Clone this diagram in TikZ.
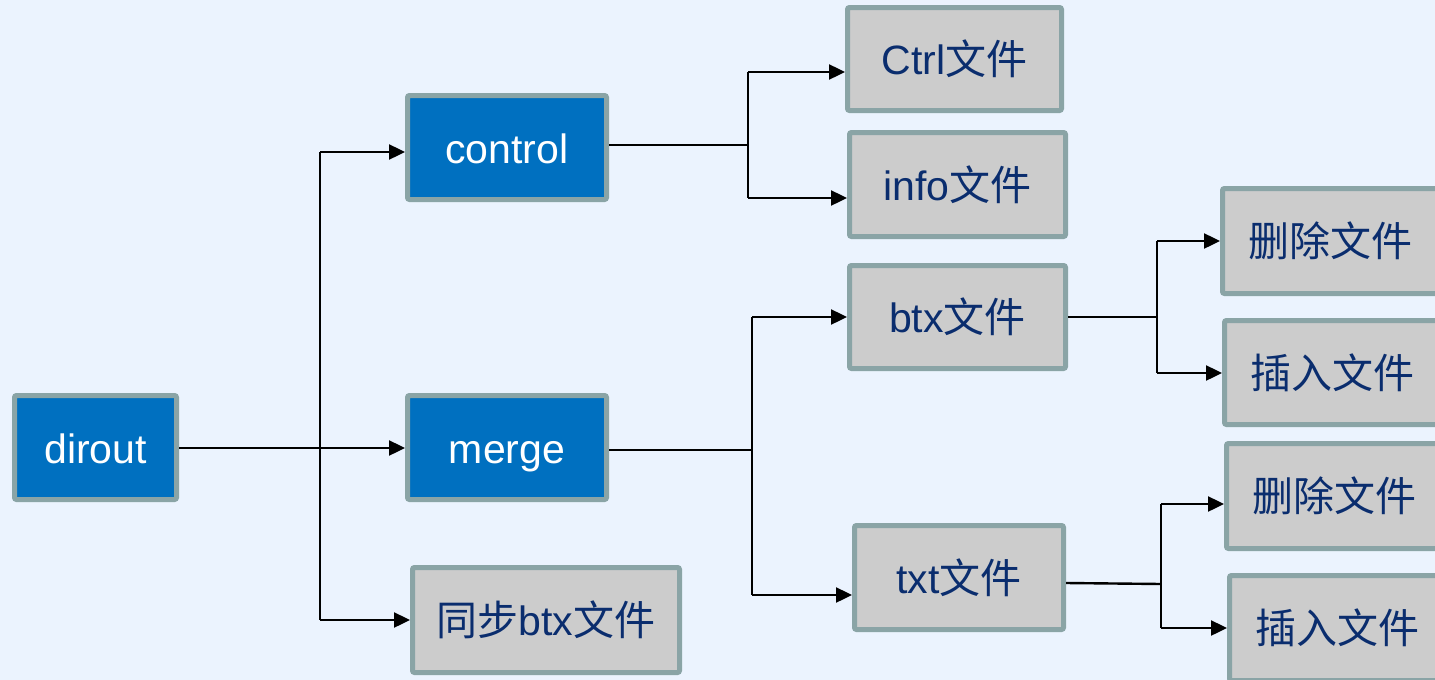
\documentclass[tikz,border=0pt]{standalone}
\usepackage{fontspec}
\setmainfont{Liberation Sans}
\newfontfamily\cjk{Noto Sans CJK SC}
\usetikzlibrary{arrows.meta}
\definecolor{bgc}{RGB}{235,243,254}
\definecolor{bluefill}{RGB}{0,112,192}
\definecolor{boxborder}{RGB}{138,164,166}
\definecolor{grayfill}{RGB}{204,204,204}
\definecolor{navytext}{RGB}{10,45,110}
\newcommand\zh[1]{{\cjk #1}}
\tikzset{
  basebox/.style={draw=boxborder, line width=5pt, rounded corners=2pt, inner sep=0pt,
    text height=31pt, text depth=0pt,
    font=\fontsize{41}{48}\selectfont},
  bluebox/.style={basebox, fill=bluefill, text=white},
  graybox/.style={basebox, fill=grayfill, text=navytext},
  conn/.style={line width=2.4pt, draw=black},
  arr/.style={conn, -{Triangle[length=16pt,width=15pt]}},
}
\begin{document}
\begin{tikzpicture}[x=1pt,y=-1pt]
\useasboundingbox (0,0) rectangle (1435,680);
\clip (0,0) rectangle (1435,680);
\fill[bgc] (0,0) rectangle (1435,680);

% blue boxes
\node[bluebox, minimum width=162pt, minimum height=104pt] (dirout) at (95.5,447.5) {dirout};
\node[bluebox, minimum width=199pt, minimum height=104pt] (control) at (507,147.5) {control};
\node[bluebox, minimum width=199pt, minimum height=104pt] (merge) at (507,447.5) {merge};
% gray boxes
\node[graybox, minimum width=267pt, minimum height=105pt] (sync) at (546,620) {\zh{同步}btx\zh{文件}};
\node[graybox, minimum width=214pt, minimum height=103pt] (ctrl) at (954.5,59) {Ctrl\zh{文件}};
\node[graybox, minimum width=216pt, minimum height=104pt] (info) at (957.5,184.5) {info\zh{文件}};
\node[graybox, minimum width=216pt, minimum height=103pt] (btx) at (957.5,317) {btx\zh{文件}};
\node[graybox, minimum width=209pt, minimum height=104pt] (txt) at (959,577.5) {txt\zh{文件}};
\node[graybox, minimum width=215pt, minimum height=105pt] (del1) at (1330,241) {\zh{删除文件}};
\node[graybox, minimum width=215pt, minimum height=104pt] (ins1) at (1332,372.5) {\zh{插入文件}};
\node[graybox, minimum width=215pt, minimum height=105pt] (del2) at (1334,496) {\zh{删除文件}};
\node[graybox, minimum width=215pt, minimum height=105pt] (ins2) at (1337,628) {\zh{插入文件}};

% junctions
\coordinate (j1t) at (320,152);
\coordinate (j1m) at (320,448);
\coordinate (j1b) at (320,620);
\coordinate (j2m) at (748,145);
\coordinate (j2t) at (748,72);
\coordinate (j2b) at (748,198);
\coordinate (j3m) at (752,450);
\coordinate (j3t) at (752,317);
\coordinate (j3b) at (752,595);
\coordinate (j4m) at (1157,317);
\coordinate (j4t) at (1157,241);
\coordinate (j4b) at (1157,373);
\coordinate (j5m) at (1161,584);
\coordinate (j5t) at (1161,504);
\coordinate (j5b) at (1161,628);

% dirout branch
\draw[conn] (dirout.east |- j1m) -- (j1m);
\draw[conn] (j1t) -- (j1b);
\draw[arr] (j1t) -- (j1t -| control.west);
\draw[arr] (j1m) -- (j1m -| merge.west);
\draw[arr] (j1b) -- (j1b -| sync.west);
% control branch
\draw[conn] (control.east |- j2m) -- (j2m);
\draw[conn] (j2t) -- (j2b);
\draw[arr] (j2t) -- (j2t -| ctrl.west);
\draw[arr] (j2b) -- (j2b -| info.west);
% merge branch
\draw[conn] (merge.east |- j3m) -- (j3m);
\draw[conn] (j3t) -- (j3b);
\draw[arr] (j3t) -- (j3t -| btx.west);
\draw[arr] (j3b) -- (j3b -| txt.west);
% btx branch
\draw[conn] (btx.east |- j4m) -- (j4m);
\draw[conn] (j4t) -- (j4b);
\draw[arr] (j4t) -- (j4t -| del1.west);
\draw[arr] (j4b) -- (j4b -| ins1.west);
% txt branch
\draw[conn] (txt.east |- 0,583) -- (j5m);
\draw[conn] (j5t) -- (j5b);
\draw[arr] (j5t) -- (j5t -| del2.west);
\draw[arr] (j5b) -- (j5b -| ins2.west);
\end{tikzpicture}
\end{document}
